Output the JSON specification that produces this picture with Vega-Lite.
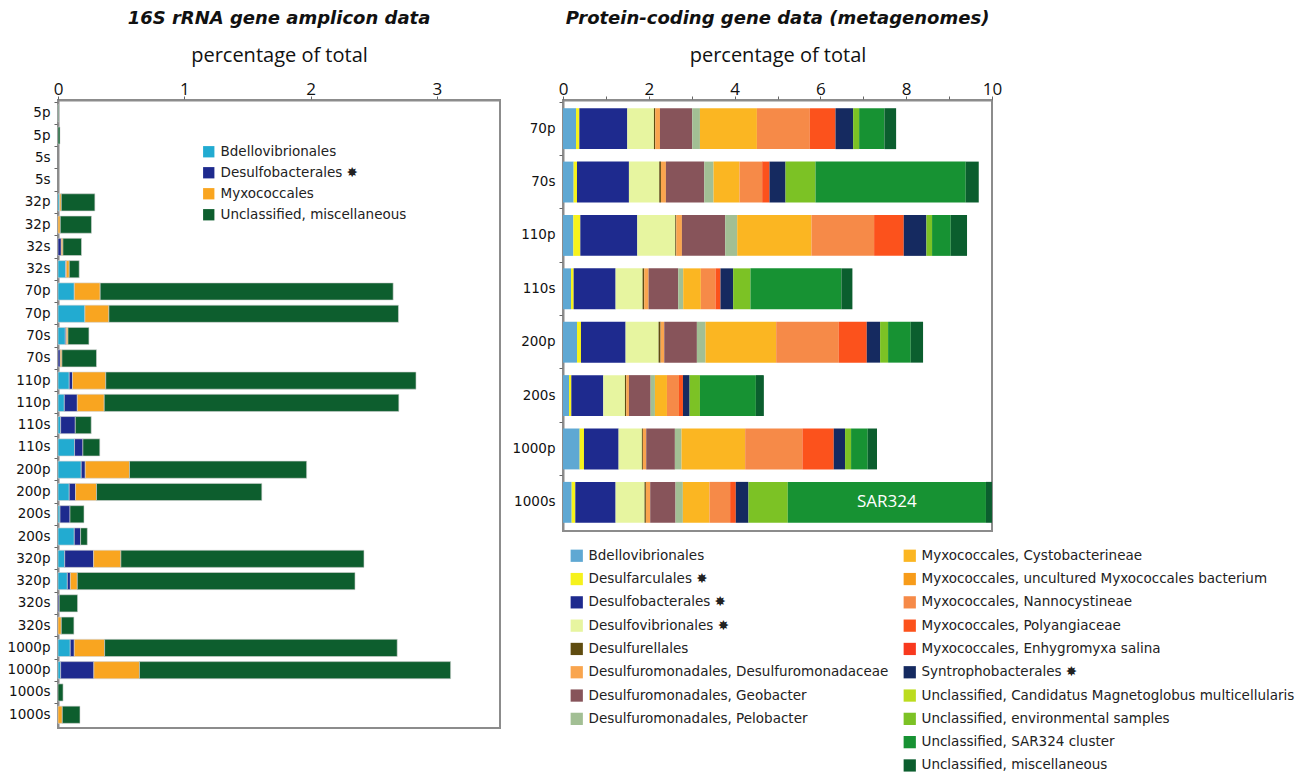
{
  "$schema": "https://vega.github.io/schema/vega-lite/v6.json",
  "padding": {"left": 6, "top": 9, "right": 5, "bottom": 5},
  "background": "white",
  "datasets": {
    "amplicons": [
      {"bar": "5p-1", "taxon": "Unclassified, miscellaneous", "pct": 0.006},
      {"bar": "5p-2", "taxon": "Unclassified, miscellaneous", "pct": 0.016},
      {"bar": "32p-1", "taxon": "Bdellovibrionales", "pct": 0.013},
      {"bar": "32p-1", "taxon": "Myxococcales", "pct": 0.013},
      {"bar": "32p-1", "taxon": "Unclassified, miscellaneous", "pct": 0.266},
      {"bar": "32p-2", "taxon": "Myxococcales", "pct": 0.018},
      {"bar": "32p-2", "taxon": "Unclassified, miscellaneous", "pct": 0.247},
      {"bar": "32s-1", "taxon": "Desulfobacterales", "pct": 0.026},
      {"bar": "32s-1", "taxon": "Myxococcales", "pct": 0.013},
      {"bar": "32s-1", "taxon": "Unclassified, miscellaneous", "pct": 0.147},
      {"bar": "32s-2", "taxon": "Bdellovibrionales", "pct": 0.06},
      {"bar": "32s-2", "taxon": "Desulfobacterales", "pct": 0.005},
      {"bar": "32s-2", "taxon": "Myxococcales", "pct": 0.024},
      {"bar": "32s-2", "taxon": "Unclassified, miscellaneous", "pct": 0.079},
      {"bar": "70p-1", "taxon": "Bdellovibrionales", "pct": 0.129},
      {"bar": "70p-1", "taxon": "Myxococcales", "pct": 0.205},
      {"bar": "70p-1", "taxon": "Unclassified, miscellaneous", "pct": 2.32},
      {"bar": "70p-2", "taxon": "Bdellovibrionales", "pct": 0.213},
      {"bar": "70p-2", "taxon": "Myxococcales", "pct": 0.19},
      {"bar": "70p-2", "taxon": "Unclassified, miscellaneous", "pct": 2.293},
      {"bar": "70s-1", "taxon": "Bdellovibrionales", "pct": 0.058},
      {"bar": "70s-1", "taxon": "Desulfobacterales", "pct": 0.008},
      {"bar": "70s-1", "taxon": "Myxococcales", "pct": 0.013},
      {"bar": "70s-1", "taxon": "Unclassified, miscellaneous", "pct": 0.166},
      {"bar": "70s-2", "taxon": "Desulfobacterales", "pct": 0.018},
      {"bar": "70s-2", "taxon": "Myxococcales", "pct": 0.013},
      {"bar": "70s-2", "taxon": "Unclassified, miscellaneous", "pct": 0.274},
      {"bar": "110p-1", "taxon": "Bdellovibrionales", "pct": 0.089},
      {"bar": "110p-1", "taxon": "Desulfobacterales", "pct": 0.026},
      {"bar": "110p-1", "taxon": "Myxococcales", "pct": 0.263},
      {"bar": "110p-1", "taxon": "Unclassified, miscellaneous", "pct": 2.457},
      {"bar": "110p-2", "taxon": "Bdellovibrionales", "pct": 0.05},
      {"bar": "110p-2", "taxon": "Desulfobacterales", "pct": 0.103},
      {"bar": "110p-2", "taxon": "Myxococcales", "pct": 0.213},
      {"bar": "110p-2", "taxon": "Unclassified, miscellaneous", "pct": 2.333},
      {"bar": "110s-1", "taxon": "Bdellovibrionales", "pct": 0.021},
      {"bar": "110s-1", "taxon": "Desulfobacterales", "pct": 0.116},
      {"bar": "110s-1", "taxon": "Unclassified, miscellaneous", "pct": 0.126},
      {"bar": "110s-2", "taxon": "Bdellovibrionales", "pct": 0.131},
      {"bar": "110s-2", "taxon": "Desulfobacterales", "pct": 0.066},
      {"bar": "110s-2", "taxon": "Unclassified, miscellaneous", "pct": 0.134},
      {"bar": "200p-1", "taxon": "Bdellovibrionales", "pct": 0.184},
      {"bar": "200p-1", "taxon": "Desulfobacterales", "pct": 0.032},
      {"bar": "200p-1", "taxon": "Myxococcales", "pct": 0.35},
      {"bar": "200p-1", "taxon": "Unclassified, miscellaneous", "pct": 1.403},
      {"bar": "200p-2", "taxon": "Bdellovibrionales", "pct": 0.089},
      {"bar": "200p-2", "taxon": "Desulfobacterales", "pct": 0.05},
      {"bar": "200p-2", "taxon": "Myxococcales", "pct": 0.166},
      {"bar": "200p-2", "taxon": "Unclassified, miscellaneous", "pct": 1.309},
      {"bar": "200s-1", "taxon": "Bdellovibrionales", "pct": 0.016},
      {"bar": "200s-1", "taxon": "Desulfobacterales", "pct": 0.079},
      {"bar": "200s-1", "taxon": "Unclassified, miscellaneous", "pct": 0.111},
      {"bar": "200s-2", "taxon": "Bdellovibrionales", "pct": 0.129},
      {"bar": "200s-2", "taxon": "Desulfobacterales", "pct": 0.05},
      {"bar": "200s-2", "taxon": "Unclassified, miscellaneous", "pct": 0.053},
      {"bar": "320p-1", "taxon": "Bdellovibrionales", "pct": 0.053},
      {"bar": "320p-1", "taxon": "Desulfobacterales", "pct": 0.229},
      {"bar": "320p-1", "taxon": "Myxococcales", "pct": 0.216},
      {"bar": "320p-1", "taxon": "Unclassified, miscellaneous", "pct": 1.925},
      {"bar": "320p-2", "taxon": "Bdellovibrionales", "pct": 0.074},
      {"bar": "320p-2", "taxon": "Desulfobacterales", "pct": 0.024},
      {"bar": "320p-2", "taxon": "Myxococcales", "pct": 0.055},
      {"bar": "320p-2", "taxon": "Unclassified, miscellaneous", "pct": 2.199},
      {"bar": "320s-1", "taxon": "Desulfobacterales", "pct": 0.01},
      {"bar": "320s-1", "taxon": "Unclassified, miscellaneous", "pct": 0.145},
      {"bar": "320s-2", "taxon": "Myxococcales", "pct": 0.026},
      {"bar": "320s-2", "taxon": "Unclassified, miscellaneous", "pct": 0.1},
      {"bar": "1000p-1", "taxon": "Bdellovibrionales", "pct": 0.097},
      {"bar": "1000p-1", "taxon": "Desulfobacterales", "pct": 0.032},
      {"bar": "1000p-1", "taxon": "Myxococcales", "pct": 0.24},
      {"bar": "1000p-1", "taxon": "Unclassified, miscellaneous", "pct": 2.317},
      {"bar": "1000p-2", "taxon": "Bdellovibrionales", "pct": 0.021},
      {"bar": "1000p-2", "taxon": "Desulfobacterales", "pct": 0.263},
      {"bar": "1000p-2", "taxon": "Myxococcales", "pct": 0.361},
      {"bar": "1000p-2", "taxon": "Unclassified, miscellaneous", "pct": 2.464},
      {"bar": "1000s-1", "taxon": "Unclassified, miscellaneous", "pct": 0.04},
      {"bar": "1000s-2", "taxon": "Myxococcales", "pct": 0.034},
      {"bar": "1000s-2", "taxon": "Unclassified, miscellaneous", "pct": 0.14}
    ],
    "metagenomes": [
      {"sample": "70p", "taxon": "Bdellovibrionales", "pct": 0.303},
      {"sample": "70p", "taxon": "Desulfarculales", "pct": 0.078},
      {"sample": "70p", "taxon": "Desulfobacterales", "pct": 1.118},
      {"sample": "70p", "taxon": "Desulfovibrionales", "pct": 0.621},
      {"sample": "70p", "taxon": "Desulfurellales", "pct": 0.031},
      {"sample": "70p", "taxon": "Desulfuromonadales, Desulfuromonadaceae", "pct": 0.109},
      {"sample": "70p", "taxon": "Desulfuromonadales, Geobacter", "pct": 0.753},
      {"sample": "70p", "taxon": "Desulfuromonadales, Pelobacter", "pct": 0.179},
      {"sample": "70p", "taxon": "Myxococcales, Cystobacterineae", "pct": 1.328},
      {"sample": "70p", "taxon": "Myxococcales, Nannocystineae", "pct": 1.234},
      {"sample": "70p", "taxon": "Myxococcales, Polyangiaceae", "pct": 0.598},
      {"sample": "70p", "taxon": "Syntrophobacterales", "pct": 0.411},
      {"sample": "70p", "taxon": "Unclassified, environmental samples", "pct": 0.14},
      {"sample": "70p", "taxon": "Unclassified, SAR324 cluster", "pct": 0.59},
      {"sample": "70p", "taxon": "Unclassified, miscellaneous", "pct": 0.272},
      {"sample": "70s", "taxon": "Bdellovibrionales", "pct": 0.248},
      {"sample": "70s", "taxon": "Desulfarculales", "pct": 0.078},
      {"sample": "70s", "taxon": "Desulfobacterales", "pct": 1.211},
      {"sample": "70s", "taxon": "Desulfovibrionales", "pct": 0.707},
      {"sample": "70s", "taxon": "Desulfurellales", "pct": 0.039},
      {"sample": "70s", "taxon": "Desulfuromonadales, Desulfuromonadaceae", "pct": 0.116},
      {"sample": "70s", "taxon": "Desulfuromonadales, Geobacter", "pct": 0.893},
      {"sample": "70s", "taxon": "Desulfuromonadales, Pelobacter", "pct": 0.217},
      {"sample": "70s", "taxon": "Myxococcales, Cystobacterineae", "pct": 0.606},
      {"sample": "70s", "taxon": "Myxococcales, Nannocystineae", "pct": 0.528},
      {"sample": "70s", "taxon": "Myxococcales, Polyangiaceae", "pct": 0.171},
      {"sample": "70s", "taxon": "Syntrophobacterales", "pct": 0.373},
      {"sample": "70s", "taxon": "Unclassified, environmental samples", "pct": 0.699},
      {"sample": "70s", "taxon": "Unclassified, SAR324 cluster", "pct": 3.502},
      {"sample": "70s", "taxon": "Unclassified, miscellaneous", "pct": 0.303},
      {"sample": "110p", "taxon": "Bdellovibrionales", "pct": 0.241},
      {"sample": "110p", "taxon": "Desulfarculales", "pct": 0.163},
      {"sample": "110p", "taxon": "Desulfobacterales", "pct": 1.328},
      {"sample": "110p", "taxon": "Desulfovibrionales", "pct": 0.885},
      {"sample": "110p", "taxon": "Desulfurellales", "pct": 0.023},
      {"sample": "110p", "taxon": "Desulfuromonadales, Desulfuromonadaceae", "pct": 0.132},
      {"sample": "110p", "taxon": "Desulfuromonadales, Geobacter", "pct": 1.009},
      {"sample": "110p", "taxon": "Desulfuromonadales, Pelobacter", "pct": 0.28},
      {"sample": "110p", "taxon": "Myxococcales, Cystobacterineae", "pct": 1.731},
      {"sample": "110p", "taxon": "Myxococcales, Nannocystineae", "pct": 1.46},
      {"sample": "110p", "taxon": "Myxococcales, Polyangiaceae", "pct": 0.691},
      {"sample": "110p", "taxon": "Syntrophobacterales", "pct": 0.528},
      {"sample": "110p", "taxon": "Unclassified, environmental samples", "pct": 0.132},
      {"sample": "110p", "taxon": "Unclassified, SAR324 cluster", "pct": 0.435},
      {"sample": "110p", "taxon": "Unclassified, miscellaneous", "pct": 0.38},
      {"sample": "110s", "taxon": "Bdellovibrionales", "pct": 0.186},
      {"sample": "110s", "taxon": "Desulfarculales", "pct": 0.062},
      {"sample": "110s", "taxon": "Desulfobacterales", "pct": 0.978},
      {"sample": "110s", "taxon": "Desulfovibrionales", "pct": 0.629},
      {"sample": "110s", "taxon": "Desulfurellales", "pct": 0.039},
      {"sample": "110s", "taxon": "Desulfuromonadales, Desulfuromonadaceae", "pct": 0.101},
      {"sample": "110s", "taxon": "Desulfuromonadales, Geobacter", "pct": 0.691},
      {"sample": "110s", "taxon": "Desulfuromonadales, Pelobacter", "pct": 0.116},
      {"sample": "110s", "taxon": "Myxococcales, Cystobacterineae", "pct": 0.411},
      {"sample": "110s", "taxon": "Myxococcales, Nannocystineae", "pct": 0.342},
      {"sample": "110s", "taxon": "Myxococcales, Polyangiaceae", "pct": 0.116},
      {"sample": "110s", "taxon": "Syntrophobacterales", "pct": 0.295},
      {"sample": "110s", "taxon": "Unclassified, environmental samples", "pct": 0.404},
      {"sample": "110s", "taxon": "Unclassified, SAR324 cluster", "pct": 2.12},
      {"sample": "110s", "taxon": "Unclassified, miscellaneous", "pct": 0.256},
      {"sample": "200p", "taxon": "Bdellovibrionales", "pct": 0.326},
      {"sample": "200p", "taxon": "Desulfarculales", "pct": 0.093},
      {"sample": "200p", "taxon": "Desulfobacterales", "pct": 1.04},
      {"sample": "200p", "taxon": "Desulfovibrionales", "pct": 0.769},
      {"sample": "200p", "taxon": "Desulfurellales", "pct": 0.047},
      {"sample": "200p", "taxon": "Desulfuromonadales, Desulfuromonadaceae", "pct": 0.085},
      {"sample": "200p", "taxon": "Desulfuromonadales, Geobacter", "pct": 0.761},
      {"sample": "200p", "taxon": "Desulfuromonadales, Pelobacter", "pct": 0.202},
      {"sample": "200p", "taxon": "Myxococcales, Cystobacterineae", "pct": 1.646},
      {"sample": "200p", "taxon": "Myxococcales, Nannocystineae", "pct": 1.46},
      {"sample": "200p", "taxon": "Myxococcales, Polyangiaceae", "pct": 0.652},
      {"sample": "200p", "taxon": "Syntrophobacterales", "pct": 0.311},
      {"sample": "200p", "taxon": "Unclassified, environmental samples", "pct": 0.186},
      {"sample": "200p", "taxon": "Unclassified, SAR324 cluster", "pct": 0.528},
      {"sample": "200p", "taxon": "Unclassified, miscellaneous", "pct": 0.287},
      {"sample": "200s", "taxon": "Bdellovibrionales", "pct": 0.14},
      {"sample": "200s", "taxon": "Desulfarculales", "pct": 0.054},
      {"sample": "200s", "taxon": "Desulfobacterales", "pct": 0.745},
      {"sample": "200s", "taxon": "Desulfovibrionales", "pct": 0.505},
      {"sample": "200s", "taxon": "Desulfurellales", "pct": 0.031},
      {"sample": "200s", "taxon": "Desulfuromonadales, Desulfuromonadaceae", "pct": 0.062},
      {"sample": "200s", "taxon": "Desulfuromonadales, Geobacter", "pct": 0.505},
      {"sample": "200s", "taxon": "Desulfuromonadales, Pelobacter", "pct": 0.101},
      {"sample": "200s", "taxon": "Myxococcales, Cystobacterineae", "pct": 0.28},
      {"sample": "200s", "taxon": "Myxococcales, Nannocystineae", "pct": 0.28},
      {"sample": "200s", "taxon": "Myxococcales, Polyangiaceae", "pct": 0.093},
      {"sample": "200s", "taxon": "Syntrophobacterales", "pct": 0.155},
      {"sample": "200s", "taxon": "Unclassified, environmental samples", "pct": 0.241},
      {"sample": "200s", "taxon": "Unclassified, SAR324 cluster", "pct": 1.304},
      {"sample": "200s", "taxon": "Unclassified, miscellaneous", "pct": 0.186},
      {"sample": "1000p", "taxon": "Bdellovibrionales", "pct": 0.388},
      {"sample": "1000p", "taxon": "Desulfarculales", "pct": 0.101},
      {"sample": "1000p", "taxon": "Desulfobacterales", "pct": 0.807},
      {"sample": "1000p", "taxon": "Desulfovibrionales", "pct": 0.543},
      {"sample": "1000p", "taxon": "Desulfurellales", "pct": 0.023},
      {"sample": "1000p", "taxon": "Desulfuromonadales, Desulfuromonadaceae", "pct": 0.078},
      {"sample": "1000p", "taxon": "Desulfuromonadales, Geobacter", "pct": 0.668},
      {"sample": "1000p", "taxon": "Desulfuromonadales, Pelobacter", "pct": 0.155},
      {"sample": "1000p", "taxon": "Myxococcales, Cystobacterineae", "pct": 1.483},
      {"sample": "1000p", "taxon": "Myxococcales, Nannocystineae", "pct": 1.335},
      {"sample": "1000p", "taxon": "Myxococcales, Polyangiaceae", "pct": 0.73},
      {"sample": "1000p", "taxon": "Syntrophobacterales", "pct": 0.264},
      {"sample": "1000p", "taxon": "Unclassified, environmental samples", "pct": 0.14},
      {"sample": "1000p", "taxon": "Unclassified, SAR324 cluster", "pct": 0.388},
      {"sample": "1000p", "taxon": "Unclassified, miscellaneous", "pct": 0.217},
      {"sample": "1000s", "taxon": "Bdellovibrionales", "pct": 0.202},
      {"sample": "1000s", "taxon": "Desulfarculales", "pct": 0.085},
      {"sample": "1000s", "taxon": "Desulfobacterales", "pct": 0.939},
      {"sample": "1000s", "taxon": "Desulfovibrionales", "pct": 0.675},
      {"sample": "1000s", "taxon": "Desulfurellales", "pct": 0.031},
      {"sample": "1000s", "taxon": "Desulfuromonadales, Desulfuromonadaceae", "pct": 0.101},
      {"sample": "1000s", "taxon": "Desulfuromonadales, Geobacter", "pct": 0.59},
      {"sample": "1000s", "taxon": "Desulfuromonadales, Pelobacter", "pct": 0.171},
      {"sample": "1000s", "taxon": "Myxococcales, Cystobacterineae", "pct": 0.621},
      {"sample": "1000s", "taxon": "Myxococcales, Nannocystineae", "pct": 0.481},
      {"sample": "1000s", "taxon": "Myxococcales, Polyangiaceae", "pct": 0.132},
      {"sample": "1000s", "taxon": "Syntrophobacterales", "pct": 0.295},
      {"sample": "1000s", "taxon": "Unclassified, environmental samples", "pct": 0.916},
      {"sample": "1000s", "taxon": "Unclassified, SAR324 cluster", "pct": 4.62},
      {"sample": "1000s", "taxon": "Unclassified, miscellaneous", "pct": 0.14}
    ]
  },
  "hconcat": [
    {
      "width": 442,
      "height": 628,
      "title": "16S rRNA gene amplicon data",
      "data": {"name": "amplicons"},
      "transform": [
        {"stack": "pct", "groupby": ["bar"], "as": ["start", "end"]}
      ],
      "mark": {"type": "bar", "stroke": "#d4d4d4", "strokeWidth": 0.6},
      "encoding": {
        "y": {
          "field": "bar",
          "type": "nominal",
          "sort": null,
          "scale": {
            "domain": ["5p-1", "5p-2", "5s-1", "5s-2", "32p-1", "32p-2", "32s-1", "32s-2", "70p-1", "70p-2", "70s-1", "70s-2", "110p-1", "110p-2", "110s-1", "110s-2", "200p-1", "200p-2", "200s-1", "200s-2", "320p-1", "320p-2", "320s-1", "320s-2", "1000p-1", "1000p-2", "1000s-1", "1000s-2"],
            "paddingInner": 0.23,
            "paddingOuter": 0.21
          },
          "axis": {"title": null, "bandPosition": -0.15, "labelExpr": "split(datum.label, '-')[0]"}
        },
        "x": {
          "field": "start",
          "type": "quantitative",
          "scale": {"domain": [0, 3.5], "nice": false},
          "axis": {
            "orient": "top",
            "title": "percentage of total",
            "values": [0, 0.5, 1, 1.5, 2, 2.5, 3, 3.5],
            "format": "d",
            "labelExpr": "datum.value % 1 === 0 ? datum.label : ''"
          }
        },
        "x2": {"field": "end"},
        "color": {
          "field": "taxon",
          "type": "nominal",
          "scale": {
            "domain": ["Bdellovibrionales", "Desulfobacterales", "Myxococcales", "Unclassified, miscellaneous"],
            "range": ["#22abd1", "#1e2a8e", "#f9a520", "#0d5e2e"]
          },
          "legend": {
            "orient": "none",
            "legendX": 144,
            "legendY": 45,
            "symbolSize": 128,
            "rowPadding": 6,
            "labelExpr": "datum.label === 'Desulfobacterales' ? datum.label + ' ✸' : datum.label"
          }
        }
      }
    },
    {
      "width": 429,
      "height": 431,
      "title": "Protein-coding gene data (metagenomes)",
      "data": {"name": "metagenomes"},
      "transform": [
        {"stack": "pct", "groupby": ["sample"], "as": ["start", "end"]}
      ],
      "encoding": {
        "y": {
          "field": "sample",
          "type": "nominal",
          "sort": null,
          "scale": {
            "domain": ["70p", "70s", "110p", "110s", "200p", "200s", "1000p", "1000s"],
            "paddingInner": 0.234,
            "paddingOuter": 0.154
          },
          "axis": {"title": null, "bandPosition": -0.15}
        },
        "x": {
          "field": "start",
          "type": "quantitative",
          "scale": {"domain": [0, 10], "nice": false},
          "axis": {
            "orient": "top",
            "title": "percentage of total",
            "values": [0, 1, 2, 3, 4, 5, 6, 7, 8, 9, 10],
            "format": "d",
            "labelExpr": "datum.value % 2 === 0 ? datum.label : ''"
          }
        }
      },
      "layer": [
        {
          "transform": [
            {"filter": {"field": "taxon", "oneOf": ["Bdellovibrionales", "Desulfarculales", "Desulfobacterales", "Desulfovibrionales", "Desulfurellales", "Desulfuromonadales, Desulfuromonadaceae", "Desulfuromonadales, Geobacter", "Desulfuromonadales, Pelobacter"]}}
          ],
          "mark": {"type": "bar"},
          "encoding": {
            "x2": {"field": "end"},
            "color": {
              "field": "taxon",
              "type": "nominal",
              "scale": {
                "domain": ["Bdellovibrionales", "Desulfarculales", "Desulfobacterales", "Desulfovibrionales", "Desulfurellales", "Desulfuromonadales, Desulfuromonadaceae", "Desulfuromonadales, Geobacter", "Desulfuromonadales, Pelobacter"],
                "range": ["#5fa8d3", "#f6f21c", "#1e2a8e", "#e7f5a0", "#5f4c10", "#f9a54e", "#87545a", "#a2bf94"]
              },
              "legend": {
                "orient": "none",
                "legendX": 7,
                "legendY": 449,
                "symbolSize": 150,
                "rowPadding": 8.3,
                "labelExpr": "indexof(['Desulfarculales', 'Desulfobacterales', 'Desulfovibrionales'], datum.label) >= 0 ? datum.label + ' ✸' : datum.label"
              }
            }
          }
        },
        {
          "transform": [
            {"filter": {"field": "taxon", "oneOf": ["Myxococcales, Cystobacterineae", "Myxococcales, uncultured Myxococcales bacterium", "Myxococcales, Nannocystineae", "Myxococcales, Polyangiaceae", "Myxococcales, Enhygromyxa salina", "Syntrophobacterales", "Unclassified, Candidatus Magnetoglobus multicellularis", "Unclassified, environmental samples", "Unclassified, SAR324 cluster", "Unclassified, miscellaneous"]}}
          ],
          "mark": {"type": "bar"},
          "encoding": {
            "x2": {"field": "end"},
            "color": {
              "field": "taxon",
              "type": "nominal",
              "scale": {
                "domain": ["Myxococcales, Cystobacterineae", "Myxococcales, uncultured Myxococcales bacterium", "Myxococcales, Nannocystineae", "Myxococcales, Polyangiaceae", "Myxococcales, Enhygromyxa salina", "Syntrophobacterales", "Unclassified, Candidatus Magnetoglobus multicellularis", "Unclassified, environmental samples", "Unclassified, SAR324 cluster", "Unclassified, miscellaneous"],
                "range": ["#fbb622", "#f79c1a", "#f68a48", "#fc521c", "#f8391e", "#152a60", "#bcdc1e", "#7cc225", "#179233", "#0b5e2e"]
              },
              "legend": {
                "orient": "none",
                "legendX": 340,
                "legendY": 449,
                "symbolSize": 150,
                "rowPadding": 8.3,
                "labelExpr": "datum.label === 'Syntrophobacterales' ? datum.label + ' ✸' : datum.label"
              }
            }
          }
        },
        {
          "transform": [
            {"filter": "datum.sample === '1000s' && datum.taxon === 'Unclassified, SAR324 cluster'"},
            {"calculate": "(datum.start + datum.end) / 2", "as": "mid"}
          ],
          "mark": {"type": "text", "color": "white", "font": "Open Sans", "fontSize": 17, "baseline": "middle", "align": "center"},
          "encoding": {
            "x": {"field": "mid", "type": "quantitative"},
            "text": {"value": "SAR324"}
          }
        }
      ],
      "resolve": {"scale": {"color": "independent"}}
    }
  ],
  "spacing": 10,
  "resolve": {"scale": {"color": "independent"}},
  "config": {
    "font": "DejaVu Sans",
    "view": {"stroke": "#8c8c8c", "strokeWidth": 2},
    "title": {"font": "DejaVu Sans", "fontSize": 18, "fontStyle": "italic", "fontWeight": "bold", "color": "#111", "anchor": "middle", "offset": 17},
    "axis": {"domainColor": "#8c8c8c", "domainWidth": 2, "tickColor": "#666", "tickSize": 4, "grid": false, "labelColor": "#111", "titleColor": "#111", "zindex": 1, "labelOverlap": false},
    "axisX": {"labelFont": "Open Sans", "labelFontSize": 17, "titleFont": "Open Sans", "titleFontSize": 20, "titleFontWeight": "normal", "labelPadding": -2, "titlePadding": 15, "labelFlush": false},
    "axisY": {"labelFont": "DejaVu Sans", "labelFontSize": 13.5, "labelPadding": 4},
    "legend": {"title": null, "symbolType": "square", "symbolStrokeWidth": 0, "labelFont": "DejaVu Sans", "labelFontSize": 13.5, "labelColor": "#222", "labelOffset": 5, "labelLimit": 600}
  }
}
